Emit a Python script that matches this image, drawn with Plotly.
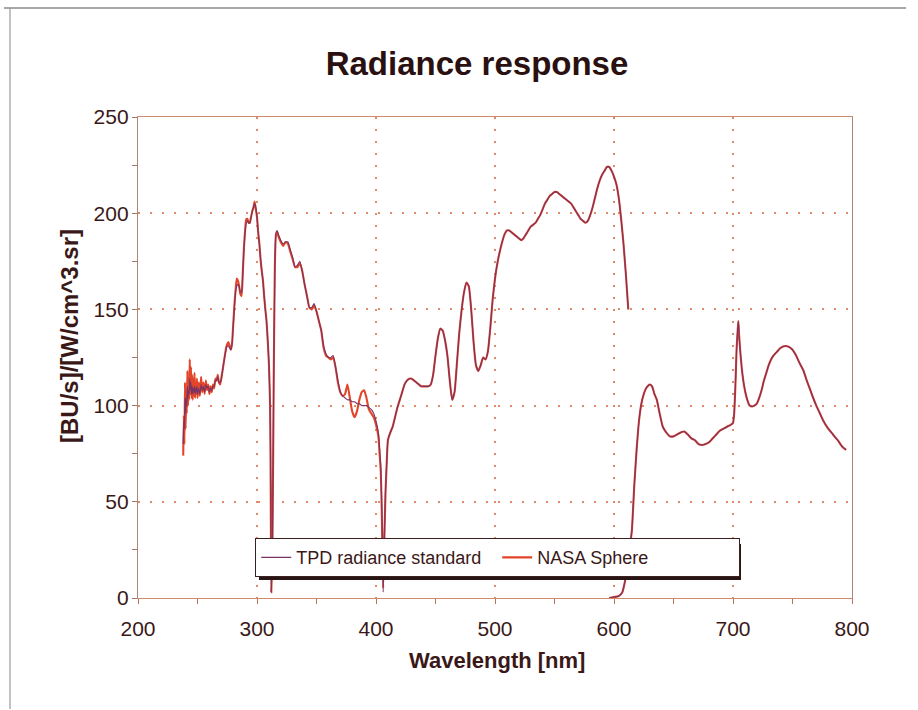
import plotly.graph_objects as go

# ---------------- data ----------------
# UV noisy part, 238-312 nm
wl_uv = [238, 238.5, 239, 239.5, 240, 240.5, 241, 241.5, 242, 242.5,
         243, 243.5, 244, 244.5, 245, 245.5, 246, 246.5, 247, 247.5,
         248, 248.5, 249, 249.5, 250,
         251, 252, 253, 254, 255, 256, 257, 258, 259, 260,
         261, 262, 263, 264, 265, 266, 267, 268, 269, 270,
         271, 272, 273, 274, 275, 276, 277, 278, 279, 280,
         281, 282, 283, 284, 285, 286, 287, 288, 289, 290,
         291, 292, 293, 294, 295, 296, 297, 298, 299, 300,
         301, 302, 303, 304, 305, 306, 307, 308, 309, 310,
         311, 311.5, 312]
nasa_uv = [74, 95, 80, 112, 88, 108, 96, 118, 100, 112,
           103, 124, 106, 120, 104, 116, 103, 114, 105, 117,
           104, 112, 106, 114, 104,
           112, 105, 115, 107, 112, 106, 113, 108, 111, 106,
           110, 107, 111, 109, 114, 113, 116, 112, 111, 114,
           118, 122, 126, 130, 132, 133, 131, 129, 132, 142,
           152, 160, 166, 165, 162, 158, 157, 168, 182, 191,
           197, 197, 195, 195, 198, 201, 203, 206, 202, 198,
           190, 184, 176, 170, 165, 157, 150, 144, 134, 122,
           100, 60, 3]
tpd_uv = [80, 92, 88, 104, 96, 104, 100, 110, 104, 108,
          106, 114, 108, 112, 106, 110, 106, 109, 107, 110,
          106, 109, 107, 110, 106,
          109, 106, 111, 108, 110, 107, 111, 109, 110, 107,
          109, 108, 110, 110, 113, 113, 115, 112, 112, 114,
          118, 122, 126, 129, 131, 131, 130, 129, 132, 141,
          151, 159, 162, 163, 162, 159, 159, 168, 181, 190,
          195, 196, 195, 195, 198, 201, 203, 205, 203, 198,
          190, 184, 176, 170, 165, 157, 150, 144, 134, 122,
          100, 60, 3]

# 313-410 nm
wl_mid = [313, 314, 315, 316, 317, 318,
          320, 322, 324, 326, 328, 330, 332, 334, 336, 338,
          340, 342, 344, 346, 348, 350, 352, 354, 356, 358,
          360, 362, 364, 366, 368, 370, 372, 374, 376, 378,
          380, 382, 384, 386, 388, 390, 392, 394, 396, 398, 400,
          402, 403, 404, 405, 406, 407, 408, 409, 410]
nasa_mid = [30, 110, 172, 189, 190, 188,
            185, 183, 185, 184, 180, 176, 172, 172, 174, 170,
            163, 157, 151, 150, 152, 149, 144, 139, 130, 126,
            125, 124, 125, 120, 112, 107, 105, 106, 111, 104,
            97, 94, 97, 103, 107, 108, 104, 98, 96, 94, 90,
            84, 75, 66, 40, 5, 30, 55, 70, 82]
tpd_mid = [30, 110, 172, 190, 191, 189,
           186, 184, 185, 185, 181, 177, 172, 173, 175, 170,
           163, 157, 151, 151, 153, 149, 144, 139, 131, 127,
           125, 125, 126, 120, 113, 107, 105, 104, 103, 103,
           102, 102, 101, 101, 100, 100, 100, 99, 98, 96, 92,
           86, 78, 68, 45, 3, 32, 56, 70, 82]

# 412-612 nm (both curves coincide)
wl_vis = [412, 414, 416, 418, 420, 422, 424, 426, 428, 430,
          432, 434, 436, 438, 440, 442, 444, 446, 448, 450,
          452, 454, 456, 458, 460, 462, 464, 466, 468, 470,
          472, 474, 476, 478, 480, 482, 484, 486, 488, 490,
          492, 494, 496, 498, 500, 502, 504, 506, 508, 510,
          512, 514, 516, 518, 520, 522, 524, 526, 528, 530,
          532, 534, 536, 538, 540, 542, 544, 546, 548, 550,
          552, 554, 556, 558, 560, 562, 564, 566, 568, 570,
          572, 574, 576, 578, 580, 582, 584, 586, 588, 590,
          592, 594, 596, 598, 600, 602, 604, 606, 608, 610,
          612]
val_vis = [86, 89, 94, 99, 103, 107, 111, 113, 114, 114,
           113, 112, 111, 110, 110, 110, 110, 111, 116, 126,
           135, 140, 139, 134, 126, 113, 103, 107, 122, 138,
           150, 159, 164, 162, 150, 133, 121, 118, 121, 125,
           124, 128, 140, 155, 166, 174, 180, 185, 189, 191,
           191, 190, 189, 188, 187, 186, 187, 189, 191, 193,
           194, 195, 197, 199, 202, 205, 207, 209, 210, 211,
           211, 210, 209, 208, 207, 206, 205, 203, 201, 199,
           197, 196, 195, 196, 199, 203, 208, 213, 217, 220,
           222, 224, 224, 222, 219, 215, 208, 197, 184, 168,
           150]

# 596-795 nm (second range)
wl_red = [596, 600, 604, 607, 609, 611, 613, 615, 617, 619,
          621, 623, 625, 627, 630, 632, 634, 636, 638, 641,
          644, 647, 650, 653, 656, 659, 662, 665, 668, 671,
          674, 677, 680, 683, 686, 689, 692, 695, 698, 700,
          701, 702, 703, 704, 704.5, 705, 706, 708, 710, 712,
          714, 716, 718, 720, 722, 724, 726, 728, 730, 732,
          734, 737, 740, 744, 747, 750, 753, 756, 759, 762,
          765, 767, 770, 773, 776, 780, 784, 788, 792, 795]
val_red = [0, 0.5, 1, 3, 8, 15, 25, 35, 58, 77,
           92, 101, 106, 109, 111, 110, 106, 103, 97, 89,
           86, 84, 84, 85, 86, 86.5, 85, 83, 82, 80,
           79.5, 80, 81, 83, 85, 87, 88, 89, 90, 91,
           96, 110, 129, 140, 144, 138, 129, 116, 108, 103,
           100, 99.5, 100, 101, 104, 108, 113, 117, 121, 124,
           126, 128, 130, 131, 130.5, 129, 126, 122, 118.5, 113,
           108, 104.6, 100, 96, 92, 88, 85, 82, 78.5, 77]

x_ticks = [200, 300, 400, 500, 600, 700, 800]
y_ticks = [0, 50, 100, 150, 200, 250]

# ---------------- figure ----------------
nasa_x = wl_uv + wl_mid + wl_vis + [None] + wl_red
nasa_y = nasa_uv + nasa_mid + val_vis + [None] + val_red
tpd_x = wl_uv + wl_mid + wl_vis + [None] + wl_red
tpd_y = tpd_uv + tpd_mid + val_vis + [None] + val_red

TXT = "#3a1818"
fig = go.Figure()
fig.add_trace(go.Scatter(x=nasa_x, y=nasa_y, mode="lines", name="NASA Sphere",
                         line=dict(color="#e2452a", width=2.1, shape="spline", smoothing=0.5),
                         legendrank=2, connectgaps=False))
fig.add_trace(go.Scatter(x=tpd_x, y=tpd_y, mode="lines", name="TPD radiance standard",
                         line=dict(color="#7a3462", width=1.1, shape="spline", smoothing=0.5),
                         legendrank=1, connectgaps=False))

def px_x(p):
    return (p - 138) / 714.0

def px_y(p):
    return (598 - p) / 481.0

fig.update_layout(
    width=918, height=710,
    margin=dict(l=138, r=66, t=117, b=112),
    paper_bgcolor="white", plot_bgcolor="white",
    font=dict(family="Liberation Sans, Arial, sans-serif", color=TXT),
    title=dict(text="Radiance response", x=477 / 918, xanchor="center",
               y=1 - 63 / 710, yanchor="middle",
               font=dict(size=33, weight="bold", color="#2a1010")),
    legend=dict(orientation="h", x=px_x(255), y=px_y(538), xanchor="left", yanchor="top",
                bgcolor="white", bordercolor="#3a2020", borderwidth=1.2,
                font=dict(size=18, color=TXT), entrywidth=196, entrywidthmode="pixels",
                itemwidth=30, traceorder="normal"),
    shapes=[
        dict(type="rect", xref="paper", yref="paper",
             x0=px_x(259), x1=px_x(741), y0=px_y(580), y1=px_y(544),
             fillcolor="#2a1515", line=dict(width=0), layer="above"),
        dict(type="line", xref="paper", yref="paper",
             x0=px_x(4), x1=px_x(906), y0=px_y(8), y1=px_y(8),
             line=dict(color="#8a8a8a", width=1.5)),
        dict(type="line", xref="paper", yref="paper",
             x0=px_x(10), x1=px_x(10), y0=px_y(8), y1=px_y(709),
             line=dict(color="#9a9a9a", width=1.2)),
    ],
    annotations=[
        dict(text="Wavelength [nm]", xref="paper", yref="paper",
             x=px_x(497), y=px_y(660), xanchor="center", yanchor="middle",
             showarrow=False, font=dict(size=22, weight="bold", color=TXT)),
        dict(text="[BU/s]/[W/cm^3.sr]", xref="paper", yref="paper",
             x=px_x(69), y=px_y(336), xanchor="center", yanchor="middle",
             textangle=-90, showarrow=False,
             font=dict(size=24, weight="bold", color=TXT)),
    ],
)

fig.update_xaxes(range=[200, 800], tickvals=x_ticks, ticks="outside", ticklen=5,
                 tickcolor="#b87060", tickwidth=1.2,
                 minor=dict(tickvals=[250, 350, 450, 550, 650, 750], ticks="outside",
                            ticklen=5, tickcolor="#b87060", showgrid=False),
                 showgrid=True, gridcolor="#e08a68", gridwidth=1.6, griddash="2px,10px",
                 showline=True, linecolor="#d08a70", linewidth=1.4, mirror=True,
                 zeroline=False, tickfont=dict(size=21, color=TXT),
                 ticklabelstandoff=7)
fig.update_yaxes(range=[0, 250], tickvals=y_ticks, ticks="outside", ticklen=5,
                 tickcolor="#a07868", tickwidth=1.2,
                 minor=dict(tickvals=[25, 75, 125, 175, 225], ticks="outside",
                            ticklen=5, tickcolor="#a07868", showgrid=False),
                 showgrid=True, gridcolor="#e08a68", gridwidth=1.6, griddash="2px,10px",
                 showline=True, linecolor="#b08474", linewidth=1.4, mirror=True,
                 zeroline=False, tickfont=dict(size=21, color=TXT),
                 ticklabelstandoff=-1)

fig.write_html("out.html")
